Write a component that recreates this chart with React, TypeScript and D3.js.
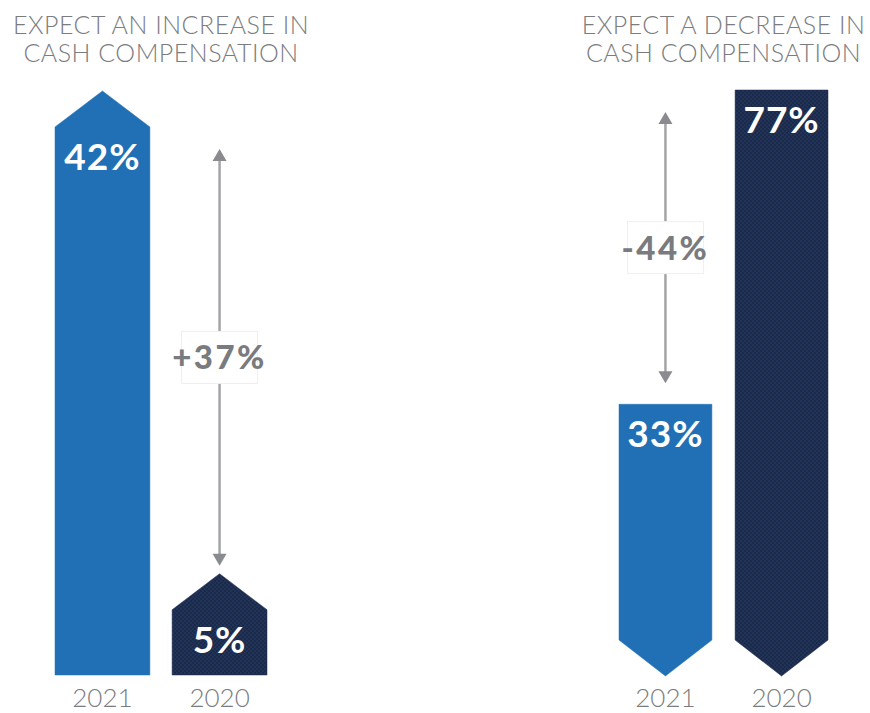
import React from "react";
import * as d3 from "d3";

const years = ["2021", "2020"];
const increaseValues = [42, 5];
const decreaseValues = [33, 77];
const panelTitles = [
  ["EXPECT AN INCREASE IN", "CASH COMPENSATION"],
  ["EXPECT A DECREASE IN", "CASH COMPENSATION"],
];
const changeLabels = ["+37%", "-44%"];

const W = 870;
const H = 713;
const BLUE = "#2170b6";
const NAVY = "#1c2a4a";
const GRAY_TEXT = "#7b7c80";
const ARROW = "#a3a4a7";
const TIP = 36;

function fmt(v: number) {
  return `${v}%`;
}

export default function App() {
  // Left panel: up-pointing bars
  const xL = d3.scaleBand<string>().domain(years).range([55, 267]).paddingInner(0.19).paddingOuter(0);
  const yL = d3.scaleLinear().domain([0, d3.max(increaseValues)!]).range([675, 127]);
  // Right panel: down-pointing bars
  const xR = d3.scaleBand<string>().domain(years).range([619, 828]).paddingInner(0.2).paddingOuter(0);
  const yR = d3.scaleLinear().domain([0, d3.max(decreaseValues)!]).range([640, 90]);

  const line = d3.line<[number, number]>();

  const upPath = (x0: number, w: number, top: number, bottom: number) =>
    line([
      [x0, bottom],
      [x0, top],
      [x0 + w / 2, top - TIP],
      [x0 + w, top],
      [x0 + w, bottom],
    ])! + "Z";

  const downPath = (x0: number, w: number, top: number, bottom: number) =>
    line([
      [x0, top],
      [x0 + w, top],
      [x0 + w, bottom],
      [x0 + w / 2, bottom + TIP],
      [x0, bottom],
    ])! + "Z";

  const arrow = (x: number, y1: number, y2: number, label: string, key: string) => {
    const mid = (y1 + y2) / 2;
    const boxH = 52;
    const boxW = 76;
    return (
      <g key={key}>
        <line x1={x} x2={x} y1={y1 + 10} y2={mid - boxH / 2} stroke={ARROW} strokeWidth={2.5} />
        <line x1={x} x2={x} y1={mid + boxH / 2} y2={y2 - 10} stroke={ARROW} strokeWidth={2.5} />
        <path d={`M${x},${y1} L${x - 7},${y1 + 12} L${x + 7},${y1 + 12}Z`} fill="#8a8b8e" />
        <path d={`M${x},${y2} L${x - 7},${y2 - 12} L${x + 7},${y2 - 12}Z`} fill="#8a8b8e" />
        <rect x={x - boxW / 2} y={mid - boxH / 2} width={boxW} height={boxH} fill="#fff" stroke="#efefef" strokeWidth={1} />
        <text
          x={x}
          y={mid + 12}
          textAnchor="middle"
          fontFamily="Lato, sans-serif"
          fontWeight={900}
          fontSize={33}
          letterSpacing={2.5}
          fill="#7a7b7f"
        >
          {label}
        </text>
      </g>
    );
  };

  const titleEl = (lines: string[], cx: number, key: string) => (
    <text
      key={key}
      textAnchor="middle"
      fontFamily="Lato, sans-serif"
      fontWeight={300}
      fontSize={25}
      letterSpacing={0.5}
      fill={GRAY_TEXT}
    >
      {lines.map((l, i) => (
        <tspan key={i} x={cx} y={34 + i * 28}>
          {l}
        </tspan>
      ))}
    </text>
  );

  const valueText = (x: number, y: number, v: number, key: string) => (
    <text
      key={key}
      x={x}
      y={y}
      textAnchor="middle"
      fontFamily="Lato, sans-serif"
      fontWeight={700}
      fontSize={37}
      letterSpacing={1}
      fill="#fff"
    >
      {fmt(v)}
    </text>
  );

  const yearText = (x: number, label: string, key: string) => (
    <text key={key} x={x} y={707} textAnchor="middle" fontFamily="Lato, sans-serif" fontWeight={300} fontSize={26} fill={GRAY_TEXT}>
      {label}
    </text>
  );

  const colors = [BLUE, NAVY];
  const fills = [BLUE, "url(#navyTex)"];

  const lCenter = (xL(years[0])! + xL(years[1])! + xL.bandwidth()) / 2;
  const rCenter = (xR(years[0])! + xR(years[1])! + xR.bandwidth()) / 2;

  return (
    <svg
      width={W}
      height={H}
      viewBox={`0 0 ${W} ${H}`}
      style={{ position: "absolute", left: 0, top: 0, background: "#fff" }}
    >
      <defs>
        <pattern id="navyTex" width={4} height={4} patternUnits="userSpaceOnUse">
          <rect width={4} height={4} fill={NAVY} />
          <rect x={0} y={0} width={2} height={2} fill="#22335a" />
          <rect x={2} y={2} width={2} height={2} fill="#22335a" />
        </pattern>
      </defs>

      {titleEl(panelTitles[0], lCenter, "tl")}
      {titleEl(panelTitles[1], rCenter, "tr")}

      {years.map((yr, i) => {
        const x0 = xL(yr)!;
        const w = xL.bandwidth();
        const top = yL(increaseValues[i]);
        return (
          <g key={"l" + yr}>
            <path d={upPath(x0, w, top, yL(0))} fill={fills[i]} stroke={colors[i]} strokeWidth={0.5} />
            {valueText(x0 + w / 2, top + 43, increaseValues[i], "lv" + i)}
            {yearText(x0 + w / 2, yr, "ly" + i)}
          </g>
        );
      })}

      {years.map((yr, i) => {
        const x0 = xR(yr)!;
        const w = xR.bandwidth();
        const top = yR(decreaseValues[i]);
        return (
          <g key={"r" + yr}>
            <path d={downPath(x0, w, top, yR(0))} fill={fills[i]} stroke={colors[i]} strokeWidth={0.5} />
            {valueText(x0 + w / 2, top + 43, decreaseValues[i], "rv" + i)}
            {yearText(x0 + w / 2, yr, "ry" + i)}
          </g>
        );
      })}

      {arrow(
        xL(years[1])! + xL.bandwidth() / 2,
        yL(increaseValues[0]) + 22,
        yL(increaseValues[1]) - TIP - 8,
        changeLabels[0],
        "al"
      )}
      {arrow(
        xR(years[0])! + xR.bandwidth() / 2,
        yR(decreaseValues[1]) + 22,
        yR(decreaseValues[0]) - 21,
        changeLabels[1],
        "ar"
      )}
    </svg>
  );
}
